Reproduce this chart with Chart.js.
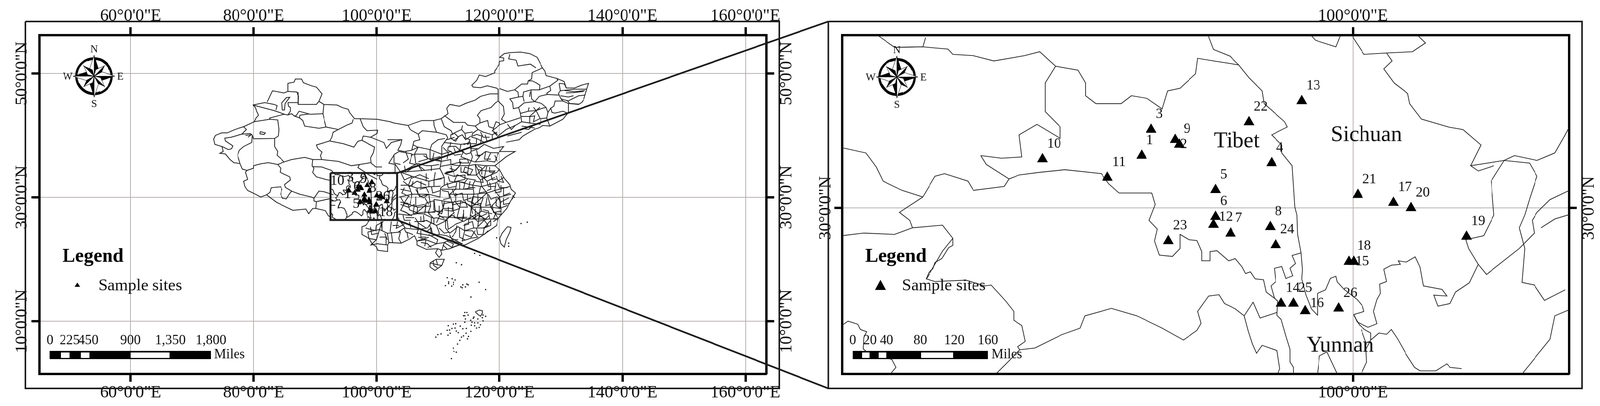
<!DOCTYPE html>
<html lang="en">
<head>
<meta charset="UTF-8">
<title>Sample sites map</title>
<script src="https://cdn.jsdelivr.net/npm/chart.js"></script>
<style>
    html, body { margin: 0; background: #fff; overflow: hidden; }
    #page { position: absolute; left: 0; top: 0; width: 4133px; height: 1039px; transform-origin: 0 0; }
    canvas { position: absolute; top: 0; }
</style>
</head>
<body>
<div id="page">
<canvas id="wide" width="2067" height="1039" style="left:0"></canvas>
<canvas id="zoom" width="2066" height="1039" style="left:2067px"></canvas>
<canvas id="overlay" width="4133" height="1039" style="left:0"></canvas>
</div>
<script>
// axis ticks
const lonTicksWide = [60, 80, 100, 120, 140, 160];
const latTicksWide = [10, 30, 50];
const lonTicksZoom = [100];
const latTicksZoom = [30];

// sample sites
const siteIds = [1, 2, 3, 4, 5, 6, 7, 8, 9, 10, 11, 12, 13, 14, 15, 16, 17, 18, 19, 20, 21, 22, 23, 24, 25, 26];
const siteLon = [96.91, 97.46, 97.05, 98.81, 97.99, 97.99, 98.21, 98.79, 97.40, 95.46, 96.41, 97.96, 99.25, 98.95, 100.01, 99.30, 100.59, 99.94, 101.66, 100.85, 100.07, 98.48, 97.30, 98.87, 99.13, 99.79];
const siteLat = [31.19, 31.44, 31.78, 31.02, 30.41, 29.80, 29.42, 29.57, 31.55, 31.11, 30.69, 29.62, 32.43, 27.83, 28.78, 27.66, 30.12, 28.78, 29.35, 30.00, 30.30, 31.95, 29.25, 29.16, 27.83, 27.72];

// inset rectangle on the wide map
const insetLon = [92.53, 103.33, 103.33, 92.53, 92.53];
const insetLat = [33.93, 33.93, 26.34, 26.34, 33.93];

// boundaries as flat lon,lat lists: west of China
const westLines = [
    [85.6,47.1, 85.6,48.4, 86.6,48.6, 86.8,49.1, 87.8,49.1, 88.1,48.5, 89.4,48, 90.2,47.8, 91.1,46.7, 90.9,46.2, 90.6,45.5, 91.4,45, 93.6,44.9, 94.4,44.5, 95.4,44.2, 95.6,43.7, 96.4,42.7, 97.3,42.7, 100.1,42.6, 102.2,42.2, 102.8,42, 104.5,41.7, 105.1,41.6, 107.4,42.4, 109.3,42.4, 110.5,42.7, 111.6,43.5, 111.4,44.4, 111.9,45, 113.5,44.7, 114.6,45.2, 116.05,45.7, 116.9,46.3, 118.4,46.7, 119.8,46.7, 119.8,47.45, 119.6,47.6, 118,48, 116.9,47.7, 115.7,47.8, 115.5,48.1, 116.3,48.9, 116.7,49.75, 117.7,49.5, 119.2,50.1, 119.2,50.4, 119.95,51.4, 120,51.95, 120.7,52.05, 120.7,52.5, 120.05,52.6, 120.8,53.2, 121.7,53.35, 123.4,53.45, 124.9,53.2, 126.1,52.6, 127,50.9, 127.4,50.4, 127.6,49.65, 129.3,49.2, 130.5,48.7, 130.85,47.65, 132.2,47.65, 133.3,48.1, 134.5,48.4, 134.2,47.45, 133.7,45.8, 133.4,45.35, 132.85,45, 131.2,45.15, 131.2,43.7, 130.3,42.6, 128.2,41.5, 127.1,41.6, 126.35,41.2, 125.7,41, 123.8,39.9, 123.2,39.3, 121.1,38.9],
    [79.9,44.9, 81.8,45.3, 83.3,45, 83.8,44.8, 83.6,44.1],
    [79.9,44.9, 83.3,44, 85.05,43.4, 85.6,43.3, 86.2,43.5, 86.6,43.15, 86.9,43.15, 87.4,43.9, 89.2,43.4, 91.25,43.5],
    [79.9,44.9, 80.3,44.5, 80.5,43.9, 80.8,43.25, 80.4,42.8, 80.1,42.2, 82.6,42.6, 83.9,42.5, 84.1,40.95, 84,39.9, 83.4,39.5, 80,39.45, 79.8,40],
    [82.6,42.6, 82.6,42.8, 84.5,43.3, 85.05,43.4],
    [80.1,42.2, 78.4,41.4, 76.95,40.95, 75.7,40.4, 74.8,40.4, 73.8,40, 73.5,39.4, 73.7,38.55, 74.85,38.2, 75.05,37.4, 74.5,37.1, 75.4,37, 76.1,36.15, 76.75,35.6, 77.8,35.45, 78.2,34.55, 78.95,34.35, 78.7,34.05, 79.05,32.9, 78.4,32.6, 78.6,31.75, 79.05,31.1, 80.1,30.6, 81.15,30.05, 82.1,30.4, 83.7,29.2, 85.35,28.4, 86.4,27.9, 88.5,28.1, 88.95,27.35, 89.6,28.2, 90.1,28.2, 91.7,27.85, 92.2,27, 92.6,26.8],
    [78.4,41.4, 78.85,40.95, 78.1,40.2, 76.3,39.7, 75.3,39.55, 75.4,39.1, 76.6,38.3, 76.4,37.85, 75.9,37.7, 74.85,38.2],
    [78.1,40.2, 79.5,40.3, 79.8,40, 79.7,38.85, 78.4,38.2, 77.7,37.6, 77.4,36.8, 77.8,35.5],
    [83.4,39.5, 83.4,38.2, 83.9,37.4, 83.8,36.8, 84.7,36, 84.95,35.7],
    [78.95,34.35, 80,34.7, 80,35.1, 81.15,35.4, 82.4,35.6, 83.9,35.3, 84.95,35.7, 86.2,36.1, 88.3,36.45, 89.6,36.1, 91.05,36.1, 93.8,35.8, 95.9,35.1, 97.2,35.3, 99.05,35.6],
    [83.9,35.3, 84.4,34.7, 84.3,34.05, 85.9,33.3, 86,32.8, 85.05,32.05, 85.2,31.6, 86.2,31, 85.8,30.5, 85.35,29.75, 84.7,29.85, 84.4,30.5, 84.6,31.3, 84.4,31.7, 82.85,31.55, 82.65,30.8, 82.1,30.4],
    [86.2,31, 87.5,30.5, 89.4,30.05, 89.8,29.85, 90.6,31, 91.5,30.9, 93,30.4],
    [89.8,29.85, 89.8,29.4, 90.2,29.3, 90.1,28.2],
    [90.2,29.3, 92.3,29.75, 93.05,29.45],
    [92.6,28.7, 93.3,28.7],
    [89.6,36.1, 89.5,35.1, 89.8,34.7, 89.6,34, 90.2,33.3, 91.7,32.9, 92.6,32.7],
    [89.6,34.95, 91.05,34.9, 92.7,34.35, 93.07,33.9],
    [91.4,45, 91.25,43.5, 91.8,41.35, 93.8,40.95],
    [87.25,47, 87.25,45, 90.2,45, 90.6,45.5],
    [85.6,47.1, 84.95,46.85, 83.05,47.2, 82.2,45.4],
    [85.6,47.1, 87.05,47, 87.3,46.3, 87.25,45],
    [85.6,45.3, 87.25,45.3],
    [85.6,45.3, 85.7,44.7, 86,44.5, 86,43.9, 85.6,43.3],
    [84.6,45.25, 85.35,46.1, 85.9,46.15, 85.15,45.15, 85.05,44.1, 84.7,44.1, 84.6,45.25],
    [87.5,43.25, 88.95,43.45],
    [87.5,43.25, 87.5,42.8, 88,42.4, 88.3,41.5, 90.6,41.15, 91.8,41.35],
    [86.6,43.15, 87.5,42.8],
    [93.8,40.95, 95.05,41.6, 96,42, 96.2,42.6],
    [93.8,40.95, 92.95,40.5, 92.75,39.7, 92.4,39.1, 90.2,38.45, 90.4,37.9, 91.1,37.3, 90.85,36.75, 91.05,36.1],
    [92.4,39.1, 94.6,38.65, 96.3,38.1, 96.95,39.05, 97.6,39.2, 99.7,38.1, 99.5,37.2, 99.05,36.35, 99.15,35.5, 99.9,34.9, 100.9,34.9],
    [97.3,42.7, 97.8,41.4, 98.4,40.75, 100.2,40.85, 100.1,40.3, 99.05,39.7, 97.8,39.9, 97.6,39.2],
    [99.05,39.7, 101.2,38.85, 101.6,37.9, 102.4,38.85, 104.1,39.3],
    [97.2,35.3, 96.95,34.8, 98.65,33.7, 100.1,32.9],
    [81,40.25, 81.7,40.15, 81.9,40.4, 81.1,40.6, 81,40.25],
    [79.1,39.7, 79.6,40.1, 78.7,40]
];

// north and north east
const northEastLines = [
    [105.1,41.6, 105.45,40.95, 106.8,40.2, 107.45,40.75, 109.75,40.5, 111.3,40.1, 111.55,39.6],
    [106.8,40.2, 107.05,39.3, 106.1,39.05, 105.75,37.6, 106.8,38.1, 108.7,37.7, 109,38.55, 110,39.3, 111.1,39.5],
    [109.3,42.4, 109.35,41.6, 109.75,40.5],
    [110.5,42.7, 111,41.4, 112.1,40.75, 112.4,40.1],
    [111,43.2, 112.5,42.1, 114.4,42.1, 114.8,41.65, 116.05,41.5, 116.8,42, 116.8,42.7, 116.4,43.25, 117,44, 118.6,44.5, 119.3,45.25, 119.8,45.55, 120.65,44.7, 120.8,43.45, 120.35,42.6, 121.1,42.1, 123.4,42.85],
    [119.8,46.7, 119.8,45.55],
    [114,41.6, 113.85,40.95, 114.4,40.3, 114.5,39.7],
    [116.05,41.5, 116.5,40.95, 115.6,40.3, 115.5,39.7, 116.25,39.5, 116.25,38.65],
    [116.8,42, 118.05,42.4, 118.25,41.4, 119,41.15, 118.9,40.75],
    [119,41.15, 119.4,42.2, 120,42, 120.05,41.7, 121.1,42.1],
    [116.5,40.95, 117.3,40.55, 118.8,40.1],
    [127,50.9, 125.3,50.15, 125.2,49.1, 124.65,48.8, 124.55,48.3, 123.6,48.3, 122.45,47.35, 121.3,47.1, 120.05,47.55],
    [125.9,50.9, 125,51.5, 123,51.2, 122.7,52.15, 121.5,52.35, 121.7,53.1],
    [122.45,47.35, 123,47, 123.1,46.2, 121.7,45.9, 122.15,45.25, 122.25,44.3, 123.1,44.5, 124,45.25, 125.7,45.45, 126.85,45.15, 127.6,44.5, 127.9,43.7, 127.7,42.8, 128.2,41.5],
    [123.1,46.2, 123.8,46.3, 124,45.45],
    [123.8,46.3, 123.9,47, 125.1,47.35, 126.45,47.35, 126.55,48.1, 125.9,48.5, 125.3,48.8, 124.65,48.8],
    [125.1,47.35, 125.2,45.9, 125.7,45.45, 126.45,46.3, 127.8,46.6, 129.7,46.5, 130,45.9, 131.15,45.55, 132.85,46.4, 133.9,46.5],
    [126.45,47.35, 128.2,47.95, 129.5,48.9, 129.3,49.2],
    [128.2,47.95, 128.35,47.25, 127.7,46.8, 127.8,46.6],
    [129.7,48.4, 130.55,48.3, 130.85,47.65],
    [129.7,48.4, 129.9,47.2, 129.6,46.8, 129.7,46.5],
    [129.9,47.2, 132.2,47.45, 134.2,47.45],
    [130.8,46.85, 132,46.9, 133.7,47.1],
    [131.2,45.15, 130.3,45.55, 129.05,45.55, 128.85,44.7, 128.35,44.4, 128.55,43.7, 129.05,43.6, 130.3,43.9, 131.05,43.6],
    [130.3,45.55, 130,45.9],
    [127.9,43.7, 128.35,44.4],
    [123.1,44.5, 123.4,43.55, 124.65,43.9, 124.8,44.5],
    [125.9,44, 127.05,44.4, 127.6,44.5],
    [124.65,43.9, 125.9,44],
    [123.4,43.55, 123.6,42.2, 124.9,42, 124.9,43, 125.7,43.15, 125.5,42.2, 126.55,42.7, 127.7,42.8],
    [123.6,42.2, 122.55,41.6, 121.1,40.95, 119.8,39.9],
    [123.6,41.5, 125.7,41.2],
    [121.3,39.9, 123.6,40.5],
    [120.05,41.7, 118.8,40.75, 119.75,40.1],
    [117.65,40.1, 117.95,39.05, 118.8,39.3, 118.8,40.1],
    [116.25,39.5, 117.4,38.95]
];

// central and eastern prefecture network
const eastLines = [
    [113.85,40.95, 112.05,40.1, 112.05,39.5, 112.9,39.05, 113.35,39.8, 113.95,40.1, 114.5,39.3, 115.4,39.9],
    [111.55,39.6, 111,38.85, 110.6,38.25, 110.6,36.95, 110.5,35.8, 110.3,34.65, 110.6,34.05, 111,33.2, 111,31.95, 110.4,31.5, 110.3,30.05, 108.5,30.5, 108.8,28.6],
    [111,38.85, 113.75,38.55, 114.4,38.65, 116.25,38.65],
    [113.75,38.55, 113.55,37.6, 114.15,37.4, 113.75,36.55, 115.4,35.9, 115.6,36.55, 115.3,37.4, 116.5,37.8, 117.5,38.55],
    [111.65,38.2, 112.9,38.25, 113.55,37.6],
    [111.65,38.2, 111.55,37.6, 112.05,37.4, 110.6,36.95],
    [112.05,37.4, 112.7,36.8, 113.75,36.95],
    [110.5,35.8, 112.05,36.1, 112.05,35.3, 113.75,35.7, 113.55,35.1, 115,35.1, 115.4,35.9],
    [112.05,35.3, 110.4,35],
    [117.5,38.55, 119,37.9, 120.7,38.2, 120.05,37.4, 122.55,37.4, 121.1,36.55, 120.05,35.7, 119.2,35.1, 120,34.5, 120.7,33.2, 121.7,32, 121.9,31.3, 122.6,30.7, 121.7,29.2, 121.2,28.2, 119.8,26.6],
    [115.4,35.9, 116.05,35.7, 117.95,35.9, 118.55,37.2, 117.75,37.4, 116.9,36.8, 116.05,35.7],
    [117.95,35.9, 119.2,35.7, 119.85,37.2, 118.55,37.2],
    [115,35.1, 116.05,35.3, 117.75,35.1, 119.2,35.1],
    [113.55,35.1, 112.7,34.25, 111.2,33.8, 112.5,33.4, 114.4,33.6, 114.4,32.9, 113.1,32.6],
    [115,35.1, 114.8,33.6, 116.25,33.6, 116.05,35.3],
    [116.25,33.6, 117.75,35.1],
    [116.25,33.6, 116.9,32.8, 118.55,33.6, 119.6,34.05, 120,34.5],
    [116.9,32.8, 117.1,31.75, 119.4,32.35, 120.7,33.2],
    [119.4,32.35, 119.2,31.1, 121.7,31.75],
    [117.1,31.75, 117.95,30.7, 119.2,31.1, 120.05,30.05, 121.9,30.5],
    [111,31.95, 113.1,32.6, 115.65,31.95, 117.1,31.75],
    [115.65,31.95, 115.85,30.5, 117.95,30.7],
    [113.1,32.6, 112.9,31.3, 115.65,31.3],
    [110.4,31.3, 112.9,31.3, 111.85,30.5, 115.85,30.5],
    [111.85,30.5, 112.25,29.2, 109.35,29.65, 109.55,27.75, 110.7,27.75, 111,29.4],
    [112.25,29.2, 112.7,26.7, 110.2,26.9, 109.75,25.9],
    [112.4,28.8, 114.4,29.2, 115.4,28.4, 115.2,26.5, 112.7,26.7],
    [115.85,30.5, 115.4,28.4, 117.95,30.7],
    [117.95,30.7, 118.55,28.4, 115.4,28.4, 117.5,26.5, 115.2,26.5],
    [118.55,28.4, 120.05,30.05, 120.25,28.2, 118.55,28.4, 119.8,26.6],
    [108.5,32.6, 111,33.2],
    [105.75,33.4, 108.5,32.6, 108.5,31.7, 110.4,31.8, 108.5,31.7],
    [108.5,31.7, 106.6,31.5, 105.15,31.95, 105.75,33.4],
    [103.9,34.05, 107.85,34.35, 110.3,34.65],
    [105.75,33.4, 103.9,34.05, 104.5,32.8, 105.75,33.4],
    [103.9,31.95, 105.15,31.95, 105.8,30.5, 108.5,30.5],
    [105.8,30.5, 103.65,30.05],
    [106.8,38.1, 106.2,37, 106.4,35.5, 107.85,34.35],
    [107.65,36.75, 108.7,36.1, 108.7,37.7],
    [108.7,37.7, 110.6,36.95],
    [108.7,36.1, 110.5,35.8],
    [103.65,37.4, 105.8,37, 105.35,35.5, 106.4,35.3, 103.9,34.05, 103.05,35.3, 102,35.5, 102.9,36.95, 103.65,37.4],
    [101.78,39.3, 104.1,39.3, 103.9,38.45, 103.45,37.6, 104.5,37.4, 105.75,37.6],
    [103,35.3, 103,34.05, 101.9,33.8],
    [106.6,31.5, 106.8,30.5, 107.6,29.9, 108.5,30.5],
    [105.8,30.5, 105.4,28.8, 106.7,28.4, 108.8,28.6],
    [103.9,30, 104.5,29, 105.4,28.8],
    [104.5,29, 103.9,27.9, 104.9,27.5, 105.3,27.1],
    [106.7,28.4, 106.6,27.35],
    [108.8,28.6, 108.4,27.5, 109.3,26.6],
    [109.55,27.75, 108.4,27.5]
];

// county sized cells in the densest part of the map
const countyLines = [
    [113.54,36.17, 114.8,36.17, 115.01,35.55, 113.54,35.55, 113.54,36.17],
    [111.97,35.3, 113.54,35.1, 112.91,34.36, 111.86,34.67],
    [114.38,34.9, 114.17,34.05, 115.22,33.63, 115.64,34.47, 114.38,34.9],
    [116.06,35.3, 116.48,34.47, 117.74,34.26, 117.95,35.1],
    [117.74,34.26, 117.53,33.2, 118.58,33.6, 119.21,34.26, 117.74,34.26],
    [116.48,34.47, 116.9,33.45, 117.53,33.2],
    [111.02,33.87, 112.49,34.25, 112.7,33.3],
    [113.12,33.66, 112.7,32.6, 114.38,32.4, 114.8,32.99, 113.12,33.66],
    [114.8,32.99, 116.06,32.8, 115.64,31.95],
    [114.38,32.4, 114.17,31.3, 115.64,31.6],
    [117.11,33.45, 117.95,32.6, 119.21,33.2],
    [117.95,32.6, 118.16,31.75, 119.42,31.75],
    [119.42,33.45, 119.84,32.6, 120.68,32.4, 120.26,33.45],
    [119.63,32.4, 120.05,31.55, 121.31,31.55],
    [116.9,31.75, 116.69,30.7, 117.95,30.95],
    [118.16,30.5, 118.58,29.7, 119.63,30.1],
    [119.63,30.1, 120.26,29.25, 121.52,29.9],
    [120.26,29.25, 120.05,28.2, 121.31,28.7],
    [118.58,28.4, 119.21,27.39, 120.26,27.2, 120.26,28.2],
    [115.64,30.1, 115.43,29.06, 116.9,28.65, 117.32,29.9, 115.64,30.1],
    [116.9,28.65, 116.69,26.77, 117.95,27.39],
    [113.96,30.7, 114.17,29.5, 115.43,29.9],
    [112.28,31.3, 112.7,30.25, 113.96,30.7],
    [112.7,29.45, 113.54,28.4, 114.8,28.4, 114.38,29.45],
    [113.54,28.4, 113.12,26.77, 114.8,26.77],
    [110.6,29.45, 110.81,28.2, 112.28,28.2],
    [110.81,28.2, 109.97,27.2, 111.02,26.55],
    [109.34,29.45, 108.08,29.06, 107.87,27.6, 109.55,27.6],
    [106.19,28.85, 105.98,27.4, 107.87,27.6],
    [103.88,28.85, 105.14,28.4, 106.19,28.85],
    [104.3,27.8, 105.77,26.97],
    [103.88,31.3, 105.56,30.95, 105.77,30.5],
    [104.3,32.6, 105.35,31.75, 106.61,32.6, 108.08,31.95],
    [106.4,31.3, 107.03,30.1, 108.5,30.5],
    [105.56,33, 107.03,33.65, 108.5,33],
    [108.08,33.87, 108.08,32.6],
    [106.61,35.5, 108.08,35.1, 108.92,35.1, 108.92,34.26],
    [106.61,36.97, 108.08,36.97, 108.29,36.17, 106.82,35.75],
    [108.71,36.17, 110.39,36.59],
    [104.72,37.4, 105.14,36.17, 104.3,35.55],
    [102.83,36.78, 102.83,35.55, 103.88,35.3],
    [105.98,38.47, 106.82,38.05],
    [112.07,40.1, 112.7,40.35, 113.33,39.7, 112.49,39.1],
    [114.38,40.35, 115.64,40.55],
    [115.64,39.9, 116.27,40.15, 117.11,39.9, 116.9,38.65],
    [118.79,40.1, 119.63,40.55],
    [114.17,38.5, 115.22,38.9, 115.43,37.85, 116.48,37.85],
    [113.54,37.6, 114.59,36.98, 115.43,37.2],
    [112.07,38.9, 111.86,38.05],
    [117.74,37.4, 117.53,36.17, 118.58,36.17],
    [116.06,36.8, 116.9,36.8],
    [119.21,36.8, 119.63,35.75],
    [125.51,44.53, 125.93,44, 126.56,44.53],
    [124.88,43.05, 125.93,44, 126.56,42.75],
    [123.51,43.05, 124.88,43.05],
    [124.88,46.2, 124.99,47.05],
    [130.55,47.25, 132.23,47.04, 133.91,47.25],
    [129.92,46.4, 131.18,46.2, 132.02,46.4],
    [130.97,45.7, 131.39,45.15, 132.86,45.05],
    [103.86,29.23, 105.12,29.02, 105.33,27.97, 106.59,27.55, 108.06,28.81],
    [108.06,28.81, 107.85,27.34],
    [109.32,29.44, 109.32,27.97, 110.58,27.34, 111,29.02],
    [111,27.97, 112.26,27.76, 112.47,29.23, 111,29.02],
    [112.47,29.23, 113.73,29.44, 113.52,28.18, 112.26,27.76],
    [113.73,29.44, 115.41,28.6, 115.62,27.34],
    [115.41,28.6, 116.88,29.02, 117.09,27.76, 115.62,26.92],
    [117.09,27.76, 118.77,27.34],
    [118.77,28.81, 118.98,27.55, 120.24,27.76],
    [108.06,26.29, 109.32,25.66, 109.32,26.5],
    [107.64,27.13, 107.75,26.08, 106.17,26.08],
    [104.7,26.71, 106.17,26.71],
    [105.33,26.08, 105.54,25.04],
    [109.74,25.45, 111.42,26.29],
    [111.42,26.71, 111.63,24.83, 112.89,25.66],
    [112.89,25.66, 113.94,26.08, 114.15,27.34],
    [113.1,25.46, 112.89,24.41, 112.26,23.57],
    [115.62,26.5, 116.46,27.13, 117.72,26.5, 118.35,27.13],
    [116.67,26.92, 116.46,25.25, 117.51,26.29],
    [117.51,25.04, 118.56,25.46],
    [117.51,23.99, 118.14,24.62],
    [114.36,23.99, 115.41,23.57, 116.04,24.62],
    [110.16,25.04, 111,24.2, 111.84,24.41],
    [108.06,24.41, 108.9,25.04, 109.11,23.99],
    [106.8,25.87, 108.06,25.04],
    [106.8,23.57, 108.06,23.15, 107.85,22.1],
    [108.48,23.99, 109.95,23.15, 109.74,22.5],
    [111.42,22.94, 112.47,22.5, 112.26,21.9],
    [110.79,22.31, 111.42,21.68],
    [98.19,25.04, 99.87,24.62, 99.98,25.46, 101.13,26.08],
    [100.92,24.62, 100.71,26.08],
    [101.34,24.2, 101.76,23.15],
    [102.39,24.41, 102.6,22.73],
    [103.55,24.41, 104.49,25.04, 104.7,24.41, 105.96,23.99],
    [112.07,35.1, 112.28,34.25, 111.23,34.05],
    [113.75,34.9, 113.75,34.05, 114.8,34.05],
    [116.48,35.1, 117.11,34.7, 117.11,33.65],
    [118.37,34.9, 118.37,34.05, 119.21,34.05],
    [118.58,33.65, 118.79,32.8, 119.63,33],
    [111.65,33.4, 111.86,32.6, 112.91,32.4],
    [111.44,32.4, 111.65,31.55, 112.91,31.75],
    [113.54,32.4, 113.54,31.3],
    [115.22,32.6, 115.01,31.55, 116.06,31.55],
    [116.06,32.6, 117.32,32.4, 117.11,33.45],
    [118.37,32.4, 118.58,31.3, 117.95,31.1],
    [120.26,31.95, 120.26,30.9, 119.21,30.7],
    [120.68,31.55, 120.68,30.3, 121.73,30.7],
    [110.6,31.1, 111.65,30.9, 111.86,29.85, 110.81,29.65],
    [112.91,30.7, 112.91,29.45],
    [114.8,30.5, 114.8,29.45, 115.85,29.05],
    [116.48,30.5, 116.48,29.05],
    [117.95,29.9, 117.74,28.65, 118.58,28.85],
    [119.42,29.9, 119.42,28.65, 120.26,28.2],
    [120.68,29.9, 120.68,28.85, 121.73,29.05],
    [110.18,28.65, 110.18,27.2],
    [111.65,28.45, 111.65,26.77, 112.7,27.6],
    [114.17,28, 114.17,26.55],
    [116.06,28.2, 116.06,26.55, 115.22,27.2],
    [117.32,28, 118.16,27.8, 118.37,26.55],
    [119.42,27.6, 119,26.55, 119.84,26.55],
    [104.51,31.55, 104.09,30.7, 105.35,30.1],
    [105.14,30.1, 104.3,28.85],
    [106.4,30.1, 106.4,28.6, 107.87,28.85],
    [107.87,29.9, 108.5,28.85],
    [107.03,31.3, 108.08,31.55, 108.5,30.7],
    [108.92,31.75, 109.13,30.7, 110.39,31.1],
    [105.98,32.6, 105.77,31.75],
    [107.24,32.6, 107.24,31.55],
    [109.34,32.8, 109.34,31.75],
    [109.55,34.05, 109.34,32.8, 110.6,33],
    [106.82,35.1, 107.45,34.25],
    [104.51,35.1, 104.72,34.05, 105.77,34.67],
    [105.56,36.8, 106.61,37],
    [109.34,37.2, 109.13,36.17, 110.39,35.95],
    [108.92,35.1, 110.18,35.3],
    [110.81,38.05, 111.65,37.2, 111.44,36.17],
    [112.49,38.25, 112.91,37.2, 113.75,37.4],
    [115.22,38.45, 115.43,37.4],
    [116.27,37.6, 116.48,36.6, 117.32,37],
    [111.44,39.3, 112.7,39.7],
    [114.17,39.7, 115.22,39.3, 114.8,38.45],
    [116.9,40.55, 117.32,39.7, 118.37,39.7],
    [119,40.55, 119.84,39.7],
    [121.31,41.8, 121.94,40.95, 122.57,41.6],
    [123.62,41.15, 124.67,40.95, 125.51,41.6],
    [124.88,42, 126.56,41.8, 126.77,42.6],
    [114.99,26.71, 114.99,25.66, 114.15,25.46],
    [117.51,26.29, 118.14,25.46, 117.3,25.04],
    [118.98,26.08, 119.61,26.5],
    [116.25,25.04, 116.46,23.99, 117.3,23.99],
    [113.52,25.04, 113.52,23.57, 114.36,23.15],
    [111.84,23.99, 112.26,23.15, 113.31,23.15],
    [108.69,25.46, 108.9,24.2, 109.74,23.99],
    [107.22,24.62, 107.22,23.57, 108.06,23.57],
    [107.22,22.73, 108.27,22.52, 108.9,21.89],
    [104.91,24.41, 105.12,23.36],
    [102.6,25.46, 103.65,25.46],
    [99.03,25.25, 99.24,23.99, 100.29,24.2],
    [100.5,23.57, 101.55,23.57, 101.55,22.31],
    [104.07,25.87, 105.33,25.67],
    [104.28,27.13, 104.49,26.29, 105.54,26.29],
    [107.22,26.92, 107.22,26.08, 108.27,26.29]
];

// south coast and islands
const southLines = [
    [119.8,26.6, 119.5,25.45, 118.15,24.5, 116.5,23.35, 114.4,22.3, 113.5,22.3, 111.85,21.7, 110.6,21.45, 109.95,21.7, 108.1,21.6, 106.6,22.3, 106.6,22.9, 106.2,23.8, 105.5,23.35, 104,22.6, 102,22.7, 101.8,22.3, 101.8,21.25, 100.2,21.45, 100,22, 99.3,22.5, 98.8,23.35, 97.6,24, 97.6,24.6, 97.6,25.25, 98.2,25.45, 98.8,26.2],
    [103.55,27.3, 105.3,27.1, 106.6,27.35, 107.6,27.35, 109.3,26.6, 109.75,26.7, 111.2,26.3, 112.25,27.1, 114.15,26.1, 115.6,26.9, 116.45,26.1, 118.15,26.5, 119.8,26.5],
    [103.55,26.7, 103.65,26.3, 104.7,25, 106.8,24.8, 106.6,24.2, 108.9,23.8, 110.2,24, 111.4,23.8, 113.95,22.5],
    [106.3,26.7, 106.8,25.9, 106.8,24.8],
    [108.9,26.7, 108.9,25.9, 108.3,25.05, 106.8,24.8],
    [108.9,25.9, 109.75,25.45, 110.15,24.4, 110.2,24],
    [111.2,26.3, 111.2,25.05, 111.85,24.2, 113.3,25.25, 114.35,24.6, 114.35,25.65, 115.6,26.1, 115.8,25.05, 114.35,24.6],
    [115.8,25.05, 117.5,25.05, 118.55,26.3, 118.55,25.45],
    [115.6,24.6, 114.35,24.6, 113.95,22.95, 115.4,23.4, 116.45,23.55, 115.6,24.6],
    [117.5,25.05, 117.3,24],
    [108.5,23.55, 106.6,22.95, 108.06,23.15, 109.75,22.5, 108.3,21.9],
    [109.75,22.5, 111,22.7, 111.85,23.15, 113.95,22.5, 112.26,21.9, 111,22.7, 110.6,21.45],
    [98.6,24.4, 100.5,24.8, 101.76,24.2, 103.86,24.4, 103.6,23.3, 104,22.6],
    [98.6,24.4, 98.8,23.35, 100,23.15, 100.5,24.8, 100.9,26.1],
    [100.9,24.8, 100.9,26.1],
    [100,23.15, 99.1,22.3, 100.1,22.5, 101.8,22.3],
    [101.76,24.2, 102,22.7],
    [102.4,26.1, 102.2,24.4],
    [103.4,26.1, 103.2,25, 104.5,25.65],
    [108.7,19.4, 109.7,20, 111,20, 110.6,19, 109.5,18.2, 108.7,18.75, 108.7,19.4],
    [109.2,19.8, 109.3,19, 109.9,18.6],
    [109.7,20, 109.9,19.1, 110.6,19],
    [108.7,19.4, 109.9,19.1],
    [109.95,21.7, 109.6,21.05, 110.16,20.3, 110.6,20.85, 110.4,21.5],
    [121.9,25.15, 121.3,25.25, 120.45,24.2, 120.05,23.35, 120.25,22.5, 120.8,21.95, 121.1,23.15, 121.7,24.4, 121.9,25.15],
    [116.05,11.5, 116.7,11.8, 117.2,11.7, 117.2,11.3, 116.9,10.8, 116.47,11.1, 116.05,11.5]
];

// scattered islands
const islandLon = [111.47, 112.27, 112.8, 111.7, 111.7, 112.5, 112.5, 111.18, 112.2, 114.05, 114.7, 114.9, 114.47, 113.95, 113.74, 116.68, 117.73, 115.36, 113, 113.84, 115.95, 116.79, 114.37, 114.7, 114.37, 114.9, 114.16, 114.47, 114.37, 115.84, 115.74, 116.47, 117.31, 117.73, 117.2, 117.31, 115.32, 115.53, 115.95, 116.47, 116.89, 115.42, 115.95, 116.26, 116.68, 112.9, 112.48, 111.64, 113.63, 114.05, 114.62, 112.23, 112.8, 111.47, 111.85, 113, 113.32, 111.96, 111.6, 110.48, 109.96, 109.64, 114.16, 114.58, 113.84, 115.34, 114.96, 114.8, 113.57, 113.2, 112.48, 112.58, 112.16, 113, 119.5, 121.5, 121.5, 123.5, 124.5, 122.2, 122.4, 122.1];
const islandLat = [17.02, 16.85, 16.65, 16.33, 16.08, 16.27, 15.95, 15.74, 15.66, 15.87, 16, 15.87, 15.53, 15.39, 15.53, 16.29, 15.11, 13.9, 19.43, 19.12, 20.94, 20.63, 11.4, 11.4, 10.88, 10.99, 10.88, 10.36, 9.83, 10.67, 10.46, 10.36, 10.99, 10.78, 10.57, 10.04, 10.15, 9.83, 9.73, 9.73, 9.41, 9.35, 9.25, 8.89, 8.99, 9.58, 9.52, 9.27, 9.2, 8.78, 8.83, 8.83, 8.89, 8.53, 8.57, 8.4, 8.15, 8.05, 7.74, 7.95, 7.84, 7.42, 7.63, 8.05, 7.42, 8.36, 7.53, 7.15, 6.9, 6.31, 5.64, 5.12, 3.96, 5, 23.46, 22.6, 22.1, 25.77, 25.98, 30.2, 30, 29.8];

// provinces around the study area, shared by both maps
const detailLines = [
    [93.07,33.9, 93.3,33.65, 93.71,33.66, 93.75,33.87],
    [93.3,33.65, 93.71,33.66, 94.08,33.61, 94.15,33.49, 94.45,33.46, 94.75,33.34, 95.2,33.46, 95.42,33.55, 95.65,33.22, 95.98,33.13, 96.09,32.84, 96.09,32.55, 96.24,32.37, 96.61,32.37, 96.76,32.55, 96.99,32.49, 97.21,32.25, 97.29,32.66, 97.47,32.72, 97.7,33.05, 97.73,33.4, 97.96,33.34, 98.33,33.25, 98.48,32.96, 98.67,32.66, 98.7,32.37, 99,31.96, 99.04,31.84, 98.81,31.66, 98.96,31.43, 98.96,31.25, 99.11,30.96, 99.15,30.02, 99.18,29.84, 99.19,29.4, 99.24,28.98, 99.26,28.6, 99.25,28.39, 99.31,28.03, 99.39,27.71, 99.48,27.56],
    [97.88,33.93, 97.96,33.6, 98.2,33.45, 98.33,33.25],
    [99.24,28.98, 99.11,28.92, 99.16,28.74, 99.08,28.63, 99.12,28.46, 99.02,28.4, 98.96,28.67, 98.85,28.63, 98.87,28.33, 98.8,28.23, 98.85,27.95, 98.9,27.89],
    [96.43,30.55, 96.58,30.34, 97.06,30.34, 97.11,30.08, 97.02,29.72, 97.14,29.52, 97.1,29.25, 97.17,28.93, 97.36,28.9, 97.47,29.08, 97.47,29.4, 97.6,29.28, 97.72,29.26, 97.79,29.01, 97.79,28.8, 97.91,28.8, 97.91,29.01, 98.01,29.03, 98.18,28.8, 98.28,28.85, 98.38,28.66, 98.43,28.51, 98.5,28.55, 98.57,28.39, 98.69,28.37, 98.73,28.09, 98.9,27.89, 98.89,27.56, 98.95,27.47, 99.02,27.09, 99.08,26.79, 99.08,26.5, 99.13,26.38, 99.13,26.22],
    [94.56,31.19, 94.64,30.99, 94.97,30.66, 95.12,30.75, 95.42,30.81, 95.79,30.87, 96.32,30.78, 96.43,30.55],
    [94.56,31.19, 94.86,31.13, 95.16,31.16, 95.12,31.66, 95.38,31.9, 95.72,31.58, 95.72,31.84, 95.5,32.19, 95.5,32.84, 95.65,33.22],
    [94.97,30.66, 94.9,30.49, 94.45,30.4, 94.37,30.61, 94.03,30.78, 93.89,30.72, 93.71,30.25, 93.37,29.9, 93.52,29.72, 93.56,29.55, 94,29.61, 94.15,29.31, 94,29.02, 93.78,28.43, 93.76,28.39, 93.89,28.33, 94.34,28.36, 94.62,28.23, 94.71,28.25, 94.92,27.89, 95.04,27.65, 95.04,27.45, 95.16,27.33, 95.21,26.97, 95.1,26.85, 95.13,26.78, 95.35,26.82, 95.74,27.12, 96.01,27.27, 96.08,27.55, 96.47,27.72, 96.84,27.55, 97.2,27.28, 97.52,27, 97.72,27.22, 97.78,27.38, 97.73,27.65, 97.89,28, 98.04,28.03, 98.12,27.83, 98.28,27.71, 98.41,27.55, 98.54,27.86, 98.64,27.5, 98.89,27.63],
    [92.53,31.37, 92.88,31.25, 93.03,30.93, 93.13,30.61, 93.41,30.4, 93.71,30.25],
    [92.53,29.37, 92.85,29.43, 93.3,29.4, 93.56,29.55],
    [92.53,27.33, 92.62,27.43, 92.76,27.36, 92.8,27.24, 92.89,27.19, 92.85,27.06, 92.84,26.8, 92.91,26.71, 93.26,26.56, 93.32,26.38, 93.24,26.23],
    [94.15,29.31, 94.15,29.15, 94.09,29.1, 93.99,28.85, 93.89,28.76, 93.86,28.62, 93.8,28.54, 93.76,28.39],
    [95.13,26.78, 95.01,26.59, 94.78,26.23],
    [98.41,27.55, 98.47,27.2, 98.53,26.91, 98.59,26.7, 98.67,26.88, 98.89,26.76, 98.93,26.35, 98.9,26.23],
    [99.62,26.73, 99.77,26.23],
    [99.62,26.73, 99.51,26.64, 99.48,26.23],
    [100.01,27.56, 100.09,27.35, 100.17,27.24, 100.26,27.16, 100.26,27, 100.19,26.79, 100.2,26.5, 100.12,26.23],
    [100.26,27, 100.38,27.16, 100.49,27.13, 100.56,27.24, 100.65,27.03, 100.78,26.67, 100.9,26.38, 100.98,26.3, 101.21,26.3, 101.37,26.46, 101.42,26.38, 101.59,26.35],
    [99.48,27.56, 99.48,28.06, 99.6,28.14, 99.67,28.4, 99.75,28.45, 99.77,28.32, 99.87,28.15, 100.06,27.92, 100.14,27.77, 100.16,27.65, 100.01,27.58, 100.06,27.41, 100.22,27.29, 100.35,27.37, 100.3,27.65, 100.35,27.92, 100.4,28.06, 100.39,28.27, 100.49,28.33, 100.45,28.61, 100.56,28.7, 100.69,28.72, 100.66,28.8, 100.78,28.77, 100.91,28.89, 100.98,28.66, 101.03,28.23, 101.3,28.15, 101.37,28, 101.18,28.02, 101.24,27.77, 101.42,27.83, 101.5,28.09, 101.7,28.3, 101.83,28.72],
    [101.83,28.72, 101.69,29.08, 101.65,29.28, 101.91,29.37, 102.06,29.84, 102.02,30.61, 102.21,31.08, 102.58,31.02, 102.69,30.72, 102.59,30.25, 102.51,29.84, 102.43,29.55, 102.51,29.08, 102.47,28.31, 102.65,28.25, 102.8,27.9, 103.1,28.14],
    [101.83,28.72, 101.95,28.49, 102.43,29.08],
    [102.21,31.08, 101.72,30.96, 101.83,30.84, 102.06,30.96],
    [101.72,30.96, 101.87,31.43, 101.61,31.78],
    [100,33.93, 100,33.87, 100.16,33.49, 100.49,33.52, 100.87,33.55, 101.06,33.75, 100.94,33.93],
    [100.49,33.52, 100.57,33.34, 100.45,33.16, 100.6,32.84, 100.8,32.6, 100.83,32.37, 101,32.02, 101.39,31.84, 101.61,31.78],
    [103.16,31.84, 103.1,31.66, 102.95,31.25, 102.69,31.08, 102.36,31.19, 102.21,31.08],
    [99.38,33.93, 99.45,33.81, 99.75,33.66, 99.82,33.93],
    [103.16,30.4, 102.88,30.19, 102.69,29.9, 102.62,29.72, 102.65,29.43, 102.43,29.08],
    [103.16,29.85, 102.95,29.75, 102.75,29.55],
    [103.16,27.69, 102.95,27.55, 102.88,27.02, 102.47,26.23],
    [100.12,27.24, 100.2,26.9]
];

// the sandbox window can come up a little narrower than asked, fit the page to it
const page = document.getElementById('page');
const fitX = window.innerWidth / 4133;
const fitY = window.innerHeight / 1039;
if (Math.abs(fitX - 1) > 0.001 || Math.abs(fitY - 1) > 0.001) {
    page.style.transform = 'scale(' + fitX + ',' + fitY + ')';
}

// tick text helpers
const lonText = v => v + "\u00b00'0\"E";
const latText = v => v + "\u00b00'0\"N";
const serif = '"Liberation Serif", "Times New Roman", serif';

// one scale per side of the map frame, all sized by hand so the frames land where they should
function frameAxis(position, tickValues, size, labelPad, isMain) {
    const horizontal = position === 'top' || position === 'bottom';
    return {
        type: 'linear',
        position: position,
        afterBuildTicks: s => { s.ticks = tickValues.map(v => ({ value: v })); },
        afterFit: s => { if (horizontal) s.height = size; else s.width = size; },
        border: { display: true, color: '#000', width: 6 },
        grid: {
            display: true,
            drawOnChartArea: isMain,
            drawTicks: true,
            color: '#b5b0ae',
            lineWidth: 2,
            tickColor: '#000',
            tickWidth: 6,
            tickLength: 20
        },
        ticks: {
            autoSkip: false,
            color: '#111',
            padding: labelPad,
            font: { family: serif, size: 44 },
            minRotation: horizontal ? 0 : 90,
            maxRotation: horizontal ? 0 : 90,
            crossAlign: horizontal ? 'near' : 'center',
            callback: v => horizontal ? lonText(v) : latText(v)
        }
    };
}

function lineDataset(flat, width) {
    const pts = [];
    for (let i = 0; i < flat.length; i += 2) pts.push({ x: flat[i], y: flat[i + 1] });
    return { type: 'scatter', data: pts, showLine: true, pointRadius: 0, borderColor: '#1c1c1c', borderWidth: width || 1.8, tension: 0 };
}

function siteDataset(radius) {
    return {
        type: 'scatter',
        data: siteIds.map((id, i) => ({ x: siteLon[i], y: siteLat[i] })),
        pointStyle: 'triangle',
        pointRadius: radius,
        pointBackgroundColor: '#000',
        pointBorderWidth: 0,
        showLine: false
    };
}

// label nudges from the site triangle, in pixels
const wideLabelShift = { 10: [-29, -24], 3: [-21, -22], 9: [7, -22], 6: [-19, -30], 8: [10, -30], 1: [-26, 11], 5: [-21, 24], 26: [20, -38], 18: [25, 19] };
const zoomLabelShift = { 2: [11, 0], 9: [31, -27], 12: [32, -20], 15: [22, 0], 16: [31, -19], 18: [39, -40] };

const wideSiteLabels = {
    id: 'wideSiteLabels',
    afterDatasetsDraw(chart) {
        const c = chart.ctx;
        c.save();
        c.font = '36px ' + serif;
        c.fillStyle = '#111';
        c.textAlign = 'center';
        c.textBaseline = 'middle';
        siteIds.forEach((id, i) => {
            const s = wideLabelShift[id];
            if (!s) return;
            c.fillText(String(id), chart.scales.x.getPixelForValue(siteLon[i]) + s[0], chart.scales.y.getPixelForValue(siteLat[i]) + s[1]);
        });
        c.restore();
    }
};

const zoomSiteLabels = {
    id: 'zoomSiteLabels',
    afterDatasetsDraw(chart) {
        const c = chart.ctx;
        c.save();
        c.font = '36px ' + serif;
        c.fillStyle = '#111';
        c.textAlign = 'center';
        c.textBaseline = 'middle';
        siteIds.forEach((id, i) => {
            const s = zoomLabelShift[id] || [id < 10 ? 21 : 30, -39];
            c.fillText(String(id), chart.scales.x.getPixelForValue(siteLon[i]) + s[0], chart.scales.y.getPixelForValue(siteLat[i]) + s[1]);
        });
        c.restore();
    }
};

// wide map
new Chart(document.getElementById('wide'), {
    type: 'scatter',
    data: {
        datasets: [
            ...westLines.map(l => lineDataset(l, 2)),
            ...northEastLines.map(l => lineDataset(l, 2)),
            ...eastLines.map(l => lineDataset(l, 2)),
            ...countyLines.map(l => lineDataset(l, 2)),
            ...southLines.map(l => lineDataset(l, 2)),
            ...detailLines.map(l => lineDataset(l, 2)),
            {
                type: 'scatter',
                data: islandLon.map((x, i) => ({ x: x, y: islandLat[i] })),
                pointRadius: 1.8,
                pointBackgroundColor: '#111',
                pointBorderWidth: 0
            },
            lineDataset(insetLon.flatMap((x, i) => [x, insetLat[i]]), 5),
            siteDataset(9)
        ]
    },
    options: {
        responsive: false,
        animation: false,
        devicePixelRatio: 1,
        layout: { padding: 0 },
        plugins: { legend: { display: false }, tooltip: { enabled: false } },
        scales: {
            x: Object.assign(frameAxis('bottom', lonTicksWide, 82, 2, true), { min: 45.14, max: 163.43 }),
            xTop: Object.assign(frameAxis('top', lonTicksWide, 89.5, 2, false), { min: 45.14, max: 163.43 }),
            y: Object.assign(frameAxis('left', latTicksWide, 101.5, -58, true), { min: 1.48, max: 56.21 }),
            yRight: Object.assign(frameAxis('right', latTicksWide, 87, -49, false), { min: 1.48, max: 56.21 })
        }
    },
    plugins: [wideSiteLabels]
});

// zoomed map
new Chart(document.getElementById('zoom'), {
    type: 'scatter',
    data: {
        datasets: [...detailLines.map(l => lineDataset(l, 1.8)), siteDataset(16)]
    },
    options: {
        responsive: false,
        animation: false,
        devicePixelRatio: 1,
        layout: { padding: 0 },
        plugins: { legend: { display: false }, tooltip: { enabled: false } },
        scales: {
            x: Object.assign(frameAxis('bottom', lonTicksZoom, 82, 2, true), { min: 92.53, max: 103.155 }),
            xTop: Object.assign(frameAxis('top', lonTicksZoom, 89.5, 2, false), { min: 92.53, max: 103.155 }),
            y: Object.assign(frameAxis('left', latTicksZoom, 108, -60, true), { min: 26.23, max: 33.93 }),
            yRight: Object.assign(frameAxis('right', latTicksZoom, 80.5, -49, false), { min: 26.23, max: 33.93 })
        }
    },
    plugins: [zoomSiteLabels]
});

// page furniture, placed in page pixels
const outerFrames = [
    [66, 55, 2013, 55, 2013, 994, 66, 994, 66, 55],
    [2139.5, 55, 4087, 55, 4087, 994, 2139.5, 994, 2139.5, 55]
];
const connectors = [
    [1025.6, 443, 2139.5, 55],
    [1025.6, 563, 2139.5, 994]
];

function drawCompass(c, cx, cy) {
    c.save();
    c.translate(cx, cy);
    c.strokeStyle = '#000';
    c.lineWidth = 7;
    c.beginPath(); c.arc(0, 0, 45, 0, Math.PI * 2); c.stroke();
    c.strokeStyle = '#fff';
    c.lineWidth = 1.5;
    c.beginPath(); c.arc(0, 0, 42, -0.4, 1.2); c.stroke();
    c.beginPath(); c.arc(0, 0, 42, 2.7, 4.3); c.stroke();
    for (let k = 0; k < 8; k++) {
        const long = k % 2 === 0;
        const reach = long ? 54 : 38;
        const side = long ? 11 : 9;
        c.save();
        c.rotate(k * Math.PI / 4);
        c.fillStyle = '#fff';
        c.strokeStyle = '#000';
        c.lineWidth = 1;
        c.beginPath(); c.moveTo(0, -reach); c.lineTo(-side, -reach * 0.38); c.lineTo(0, 0); c.closePath(); c.fill(); c.stroke();
        c.fillStyle = '#000';
        c.beginPath(); c.moveTo(0, -reach); c.lineTo(side, -reach * 0.38); c.lineTo(0, 0); c.closePath(); c.fill();
        c.restore();
    }
    c.fillStyle = '#111';
    c.font = '27px ' + serif;
    c.textAlign = 'center';
    c.textBaseline = 'middle';
    c.fillText('N', 0, -68);
    c.fillText('S', 0, 72);
    c.fillText('W', -68, 2);
    c.fillText('E', 68, 2);
    c.restore();
}

function drawScaleBar(c, x0, x1, holes, labels, milesX) {
    c.fillStyle = '#000';
    c.fillRect(x0, 898, x1 - x0, 21);
    c.fillStyle = '#fff';
    holes.forEach(h => c.fillRect(h[0], 902, h[1] - h[0], 14));
    c.fillStyle = '#111';
    c.font = '35px ' + serif;
    c.textAlign = 'center';
    c.textBaseline = 'middle';
    labels.forEach(l => c.fillText(l[0], l[1], 872));
    c.textAlign = 'left';
    c.fillText('Miles', milesX, 908);
}

function drawLegend(c, titleX, symbolX, textX, half, top, bottom) {
    c.fillStyle = '#000';
    c.font = 'bold 50px ' + serif;
    c.textAlign = 'left';
    c.textBaseline = 'alphabetic';
    c.fillText('Legend', titleX, 670);
    c.beginPath();
    c.moveTo(symbolX, top);
    c.lineTo(symbolX + half, bottom);
    c.lineTo(symbolX - half, bottom);
    c.closePath();
    c.fill();
    c.fillStyle = '#111';
    c.font = '43px ' + serif;
    c.fillText('Sample sites', textX, 743);
}

const furniture = {
    id: 'furniture',
    afterDatasetsDraw(chart) {
        const c = chart.ctx;
        drawCompass(c, 243, 195);
        drawCompass(c, 2317, 197);
        drawLegend(c, 161, 200, 254, 7, 723, 734);
        drawLegend(c, 2235, 2274, 2330, 14, 716, 742);
        drawScaleBar(c, 128, 545, [[157, 180], [209, 231], [337.5, 438]],
            [['0', 129], ['225', 180], ['450', 228], ['900', 337], ['1,350', 440], ['1,800', 545]], 553);
        drawScaleBar(c, 2203, 2552, [[2227, 2246], [2269.5, 2289], [2379, 2462]],
            [['0', 2203], ['20', 2247], ['40', 2290], ['80', 2377], ['120', 2465], ['160', 2552]], 2561);
        c.fillStyle = '#111';
        c.font = '57px ' + serif;
        c.textAlign = 'center';
        c.textBaseline = 'alphabetic';
        c.fillText('Tibet', 3194.6, 376.7);
        c.fillText('Sichuan', 3529.5, 361);
        c.fillText('Yunnan', 3462, 900);
    }
};

new Chart(document.getElementById('overlay'), {
    type: 'scatter',
    data: {
        datasets: [
            ...outerFrames.map(f => lineDataset(f, 4)),
            ...connectors.map(f => lineDataset(f, 4.5))
        ]
    },
    options: {
        responsive: false,
        animation: false,
        devicePixelRatio: 1,
        layout: { padding: 0 },
        plugins: { legend: { display: false }, tooltip: { enabled: false } },
        scales: {
            x: { display: false, min: 0, max: 4133 },
            y: { display: false, min: 0, max: 1039, reverse: true }
        }
    },
    plugins: [furniture]
});
</script>
</body>
</html>
